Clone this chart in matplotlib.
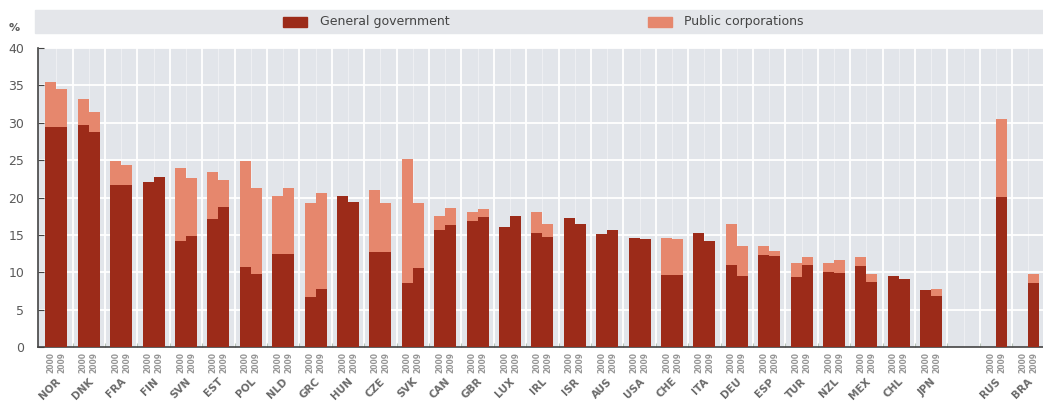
import numpy as np
import matplotlib
matplotlib.use("Agg")
import matplotlib.pyplot as plt
from matplotlib.patches import Rectangle

countries = ["NOR", "DNK", "FRA", "FIN", "SVN", "EST", "POL", "NLD", "GRC", "HUN",
             "CZE", "SVK", "CAN", "GBR", "LUX", "IRL", "ISR", "AUS", "USA", "CHE",
             "ITA", "DEU", "ESP", "TUR", "NZL", "MEX", "CHL", "JPN", "", "RUS", "BRA"]
years = ["2000", "2009"]

# general government, % of GDP
gov_2000 = [29.5, 29.7, 21.7, 22.1, 14.2, 17.1, 10.7, 12.5, 6.7, 20.2,
            12.7, 8.5, 15.7, 16.9, 16.0, 15.2, 17.3, 15.1, 14.6, 9.7,
            15.3, 11.0, 12.3, 9.4, 10.1, 10.9, 9.5, 7.6, np.nan, np.nan, np.nan]
gov_2009 = [29.5, 28.7, 21.7, 22.8, 14.8, 18.7, 9.8, 12.5, 7.8, 19.4,
            12.7, 10.6, 16.3, 17.4, 17.5, 14.7, 16.5, 15.7, 14.5, 9.7,
            14.2, 9.5, 12.2, 11.0, 9.9, 8.7, 9.1, 6.8, np.nan, 20.1, 8.5]
# general government + public corporations
tot_2000 = [35.5, 33.2, 24.9, 22.1, 24.0, 23.4, 24.9, 20.2, 19.2, 20.2,
            21.0, 25.2, 17.5, 18.0, 16.0, 18.1, 17.3, 15.1, 14.6, 14.6,
            15.3, 16.4, 13.5, 11.3, 11.3, 12.1, 9.5, 7.6, np.nan, np.nan, np.nan]
tot_2009 = [34.5, 31.5, 24.3, 22.8, 22.6, 22.3, 21.3, 21.3, 20.6, 19.4,
            19.3, 19.3, 18.6, 18.5, 17.5, 16.5, 16.5, 15.7, 14.5, 14.4,
            14.2, 13.5, 12.9, 12.0, 11.6, 9.8, 9.1, 7.8, np.nan, 30.5, 9.8]

GOV_COLOR = "#9c2b19"
PC_COLOR = "#e6876d"
BG_COLOR = "#e2e5ea"
TEXT_COLOR = "#5a5a5a"


def draw_bars(ax, x, gov, tot):
    gov = np.array(gov)
    pc = np.array(tot) - gov
    ax.bar(x, gov, width=0.34, color=GOV_COLOR, align="edge", zorder=3)
    ax.bar(x, pc, bottom=gov, width=0.34, color=PC_COLOR, align="edge", zorder=3)


def main():
    fig = plt.figure(figsize=(10.43, 4.19), dpi=100)
    ax = fig.add_axes([0.0364, 0.1718, 0.9636, 0.7136])
    ax.set_facecolor(BG_COLOR)

    x = np.arange(len(countries))
    draw_bars(ax, x - 0.34, gov_2000, tot_2000)
    draw_bars(ax, x, gov_2009, tot_2009)

    ax.set_xlim(-0.571, 30.45)
    ax.set_ylim(0, 40)

    # white grid
    for v in range(5, 41, 5):
        ax.axhline(v, color="white", lw=1.3, zorder=1)
    for b in x[:-1] + 0.5:
        ax.axvline(b, color="white", lw=1.3, zorder=1)
    for c in x:
        ax.axvline(c, color="white", lw=0.5, alpha=0.6, zorder=1)

    for side in ["top", "right"]:
        ax.spines[side].set_visible(False)
    ax.spines["left"].set_color("#444444")
    ax.spines["bottom"].set_color("#444444")
    ax.spines["left"].set_linewidth(1.2)
    ax.spines["bottom"].set_linewidth(1.2)

    ax.set_yticks(range(0, 41, 5))
    ax.tick_params(axis="y", direction="in", length=4, color="#444444",
                   labelsize=9, labelcolor=TEXT_COLOR, pad=10)
    ax.set_xticks(x[:-1] + 0.5)
    ax.set_xticklabels([])
    ax.tick_params(axis="x", direction="in", length=3, color="#b8c4b8")

    # year labels and country labels
    for i, c in enumerate(countries):
        if not c:
            continue
        for j, yr in enumerate(years):
            ax.text(i - 0.17 + 0.34 * j, -0.7, yr, rotation=90, ha="center", va="top",
                    fontsize=5.5, color="#959595", fontweight="bold")
        ax.text(i - 0.02, -3.9, c, rotation=45, ha="right", va="top",
                fontsize=7.5, color="#6a6a6a", fontweight="bold",
                rotation_mode="anchor")

    fig.text(0.008, 0.925, "%", fontsize=8, color=TEXT_COLOR, fontweight="bold")

    # legend band
    fig.patches.append(Rectangle((0.034, 1 - 33 / 419), 0.97, 23 / 419,
                                 transform=fig.transFigure, color="#e4e6ea", zorder=0))
    fig.patches.append(Rectangle((283 / 1043, 1 - 27 / 419), 24 / 1043, 10 / 419,
                                 transform=fig.transFigure, color=GOV_COLOR))
    fig.text(320 / 1043, 1 - 22 / 419, "General government", fontsize=9,
             color="#444444", va="center")
    fig.patches.append(Rectangle((648 / 1043, 1 - 27 / 419), 24 / 1043, 10 / 419,
                                 transform=fig.transFigure, color=PC_COLOR))
    fig.text(684 / 1043, 1 - 22 / 419, "Public corporations", fontsize=9,
             color="#444444", va="center")

    fig.savefig("out.png", dpi=100, facecolor="white")


if __name__ == "__main__":
    main()
